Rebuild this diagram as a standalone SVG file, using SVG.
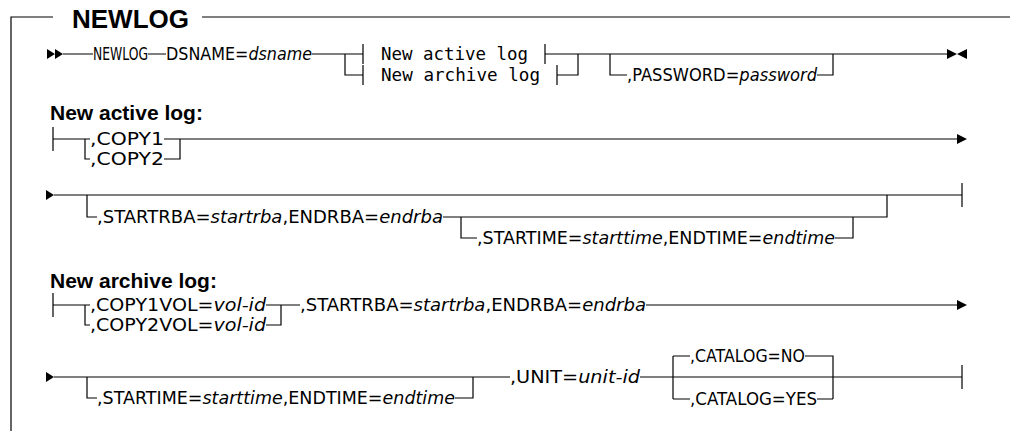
<svg xmlns="http://www.w3.org/2000/svg" width="1010" height="431" viewBox="0 0 1010 431">
  <style>
    .ln { fill: none; stroke: #000; stroke-width: 1.2; }
    .ah { fill: #000; stroke: none; }
    .kw { font-family: "DejaVu Sans", "Liberation Sans", sans-serif; font-size: 17px; fill: #000; }
    .var { font-style: italic; }
    .frag { font-family: "DejaVu Sans Mono", "Liberation Mono", monospace; font-size: 17.6px; fill: #000; }
    .hd { font-family: "Liberation Sans", Arial, sans-serif; font-weight: bold; font-size: 21px; fill: #000; }
    .ttl { font-family: "Liberation Sans", Arial, sans-serif; font-weight: bold; font-size: 26px; fill: #000; }
  </style>

  <!-- frame with title -->
  <g id="frame">
    <path class="ln" d="M11,431 V17 H53 M202,17 H1010"/>
    <text class="ttl" x="72" y="28">NEWLOG</text>
  </g>

  <!-- section headings -->
  <g id="heading-active"><text class="hd" x="50" y="120">New active log:</text></g>
  <g id="heading-archive"><text class="hd" x="50" y="288">New archive log:</text></g>

  <!-- all connector lines, bars and arrowheads -->
  <g id="connectors">
    <!-- main statement -->
    <path class="ah" d="M47,49 L55,54 L47,59 Z M55,49 L63,54 L55,59 Z"/>
    <path class="ln" d="M63,54 H93 M148,54 H166 M312,54 H363 M345,54 V75 H363
                        M363,44 V64 M363,65 V85
                        M545,44 V64 M545,54 H947
                        M557,65 V85 M557,75 H578 V54
                        M610,54 V75 H627 M817,75 H833 V54"/>
    <path class="ah" d="M947,49 L957,54 L947,59 Z M967,49 L957,54 L967,59 Z"/>

    <!-- new active log fragment -->
    <path class="ln" d="M53,127 V151 M53,139 H90 M85,139 V159 H90
                        M164,139 H957 M164,159 H180 V139"/>
    <path class="ah" d="M957,134 L967,139 L957,144 Z"/>
    <path class="ah" d="M46,190 L54,195 L46,200 Z"/>
    <path class="ln" d="M54,195 H962 M962,183 V207
                        M87,195 V217 H97 M443,217 H887 V195
                        M461,217 V238 H477 M835,238 H853 V217"/>

    <!-- new archive log fragment -->
    <path class="ln" d="M53,293 V317 M53,305 H90 M85,305 V325 H90
                        M266,305 H300 M266,325 H281 V305
                        M646,305 H957"/>
    <path class="ah" d="M957,300 L967,305 L957,310 Z"/>
    <path class="ah" d="M46,372 L54,377 L46,382 Z"/>
    <path class="ln" d="M54,377 H510 M87,377 V398 H97 M455,398 H473 V377
                        M640,377 H962 M962,365 V389
                        M673,356 V399 M673,356 H690 M805,356 H833 V399
                        M673,399 H690 M817,399 H833"/>
  </g>

  <!-- main statement items -->
  <g id="kw-newlog"><text class="kw" x="93" y="60" textLength="55" lengthAdjust="spacingAndGlyphs">NEWLOG</text></g>
  <g id="kw-dsname"><text class="kw" x="166" y="60" textLength="146" lengthAdjust="spacingAndGlyphs">DSNAME=<tspan class="var">dsname</tspan></text></g>
  <g id="ref-active"><text class="frag" x="381" y="60" textLength="147" lengthAdjust="spacingAndGlyphs">New active log</text></g>
  <g id="ref-archive"><text class="frag" x="381" y="81" textLength="159" lengthAdjust="spacingAndGlyphs">New archive log</text></g>
  <g id="kw-password"><text class="kw" x="627" y="81" textLength="190" lengthAdjust="spacingAndGlyphs">,PASSWORD=<tspan class="var">password</tspan></text></g>

  <!-- new active log items -->
  <g id="kw-copy1"><text class="kw" x="90" y="145" textLength="74" lengthAdjust="spacingAndGlyphs">,COPY1</text></g>
  <g id="kw-copy2"><text class="kw" x="90" y="165" textLength="74" lengthAdjust="spacingAndGlyphs">,COPY2</text></g>
  <g id="kw-rba-active"><text class="kw" x="97" y="223" textLength="346" lengthAdjust="spacingAndGlyphs">,STARTRBA=<tspan class="var">startrba</tspan>,ENDRBA=<tspan class="var">endrba</tspan></text></g>
  <g id="kw-time-active"><text class="kw" x="477" y="244" textLength="358" lengthAdjust="spacingAndGlyphs">,STARTIME=<tspan class="var">starttime</tspan>,ENDTIME=<tspan class="var">endtime</tspan></text></g>

  <!-- new archive log items -->
  <g id="kw-copy1vol"><text class="kw" x="90" y="311" textLength="176" lengthAdjust="spacingAndGlyphs">,COPY1VOL=<tspan class="var">vol-id</tspan></text></g>
  <g id="kw-copy2vol"><text class="kw" x="90" y="331" textLength="176" lengthAdjust="spacingAndGlyphs">,COPY2VOL=<tspan class="var">vol-id</tspan></text></g>
  <g id="kw-rba-archive"><text class="kw" x="300" y="311" textLength="346" lengthAdjust="spacingAndGlyphs">,STARTRBA=<tspan class="var">startrba</tspan>,ENDRBA=<tspan class="var">endrba</tspan></text></g>
  <g id="kw-time-archive"><text class="kw" x="97" y="404" textLength="358" lengthAdjust="spacingAndGlyphs">,STARTIME=<tspan class="var">starttime</tspan>,ENDTIME=<tspan class="var">endtime</tspan></text></g>
  <g id="kw-unit"><text class="kw" x="510" y="383" textLength="130" lengthAdjust="spacingAndGlyphs">,UNIT=<tspan class="var">unit-id</tspan></text></g>
  <g id="kw-catalog-no"><text class="kw" x="690" y="362" textLength="115" lengthAdjust="spacingAndGlyphs">,CATALOG=NO</text></g>
  <g id="kw-catalog-yes"><text class="kw" x="690" y="405" textLength="127" lengthAdjust="spacingAndGlyphs">,CATALOG=YES</text></g>
</svg>
